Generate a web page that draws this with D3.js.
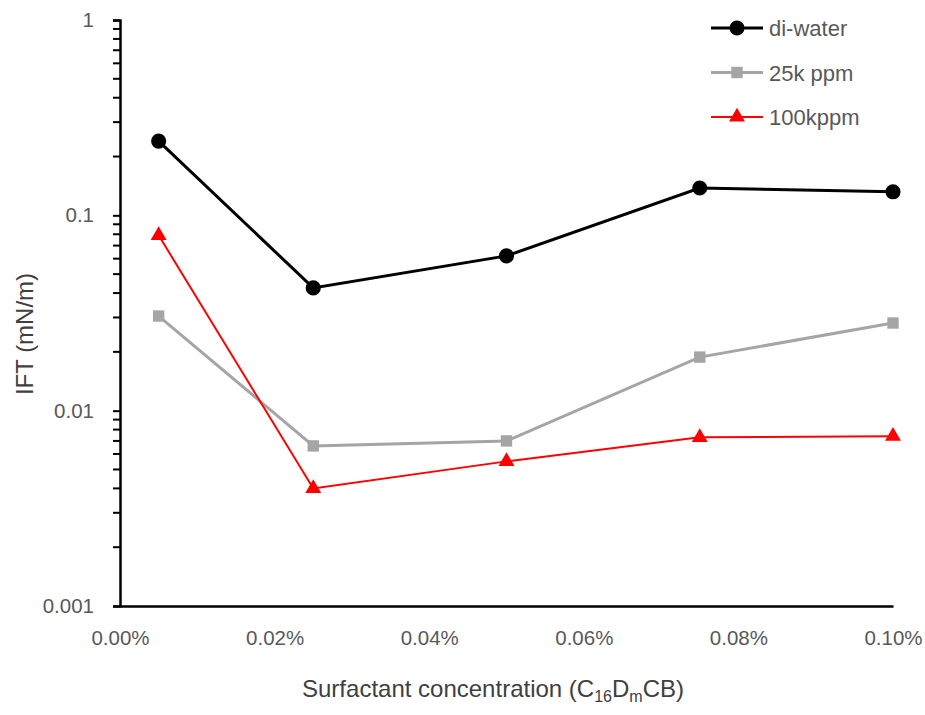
<!DOCTYPE html>
<html>
<head>
<meta charset="utf-8">
<script src="https://cdn.jsdelivr.net/npm/d3@7"></script>
<style>
  body { margin: 0; background: white; }
  text { font-family: "Liberation Sans", Arial, sans-serif; }
</style>
</head>
<body>
<div id="viz-container"></div>
<script>
//data
let concentrations = [0.005, 0.025, 0.05, 0.075, 0.1]; // percent
let diWater = [0.24, 0.0425, 0.062, 0.138, 0.132];
let ppm25k = [0.0305, 0.0066, 0.0070, 0.0188, 0.0281];
let ppm100k = [0.079, 0.0040, 0.0055, 0.0073, 0.0074];
let seriesNames = ["di-water", "25k ppm", "100kppm"];
let xTicks = [0, 0.02, 0.04, 0.06, 0.08, 0.1];
let yTicks = [0.001, 0.01, 0.1, 1];

let viz = d3.select("#viz-container")
    .append("svg")
    .attr("width", 925)
    .attr("height", 715)
    .style("background-color", "white");

let x = d3.scaleLinear().domain([0, 0.1]).range([120, 893]);
let y = d3.scaleLog().domain([0.001, 1]).range([606, 20]);

//minor ticks 2..9 of every decade
let minor = [];
[0.001, 0.01, 0.1].forEach(function (d) {
    for (let k = 2; k <= 9; k++) minor.push(d * k);
});

let yAxis = viz.append("g")
    .attr("transform", "translate(120,0)")
    .call(d3.axisLeft(y).tickValues(yTicks).tickFormat(d3.format("~g")).tickSize(7).tickPadding(19));
yAxis.select(".domain").attr("stroke", "black").attr("stroke-width", 2.5);
yAxis.selectAll(".tick line").attr("stroke-width", 2);
yAxis.selectAll(".tick text").attr("font-size", 20.5).attr("fill", "#595959");

viz.append("g").selectAll("line").data(minor).enter().append("line")
    .attr("x1", 113).attr("x2", 120)
    .attr("y1", d => y(d)).attr("y2", d => y(d))
    .attr("stroke", "black").attr("stroke-width", 2);

let xAxis = viz.append("g")
    .attr("transform", "translate(0,606)")
    .call(d3.axisBottom(x).tickValues(xTicks).tickFormat(d => d.toFixed(2) + "%").tickSize(0).tickPadding(24));
xAxis.select(".domain").attr("stroke", "black").attr("stroke-width", 2.5);
xAxis.selectAll(".tick text").attr("font-size", 20.5).attr("fill", "#595959");

//axis titles
viz.append("text")
    .attr("x", 493).attr("y", 697)
    .attr("text-anchor", "middle")
    .attr("font-size", 24)
    .attr("fill", "#404040")
    .html('Surfactant concentration (C<tspan dy="5" font-size="16">16</tspan><tspan dy="-5">D</tspan><tspan dy="5" font-size="16">m</tspan><tspan dy="-5">CB)</tspan>');

viz.append("text")
    .attr("transform", "translate(33,334) rotate(-90)")
    .attr("text-anchor", "middle")
    .attr("font-size", 24)
    .attr("fill", "#404040")
    .text("IFT (mN/m)");

let line = d3.line()
    .x((d, i) => x(concentrations[i]))
    .y(d => y(d));

let series = [
    { name: seriesNames[0], values: diWater, color: "black", width: 3, shape: d3.symbolCircle, size: 180 },
    { name: seriesNames[1], values: ppm25k, color: "#a5a5a5", width: 3, shape: d3.symbolSquare, size: 130 },
    { name: seriesNames[2], values: ppm100k, color: "#ff0000", width: 2, shape: d3.symbolTriangle, size: 110 }
];

series.forEach(function (s) {
    viz.append("path")
        .attr("d", line(s.values))
        .attr("fill", "none")
        .attr("stroke", s.color)
        .attr("stroke-width", s.width);
    viz.selectAll(null).data(s.values).enter().append("path")
        .attr("d", d3.symbol().type(s.shape).size(s.size))
        .attr("transform", (d, i) => "translate(" + x(concentrations[i]) + "," + y(d) + ")")
        .attr("fill", s.color);
});

//legend
let legend = viz.selectAll(".legend").data(series).enter().append("g")
    .attr("class", "legend")
    .attr("transform", (d, i) => "translate(711," + (28 + i * 44.5) + ")");
legend.append("line")
    .attr("x1", 0).attr("x2", 52)
    .attr("stroke", d => d.color)
    .attr("stroke-width", d => d.width);
legend.append("path")
    .attr("d", d => d3.symbol().type(d.shape).size(d.size)())
    .attr("transform", "translate(26,0)")
    .attr("fill", d => d.color);
legend.append("text")
    .attr("x", 58).attr("y", 8)
    .attr("font-size", 22)
    .attr("fill", "#595959")
    .text(d => d.name);
</script>
</body>
</html>
